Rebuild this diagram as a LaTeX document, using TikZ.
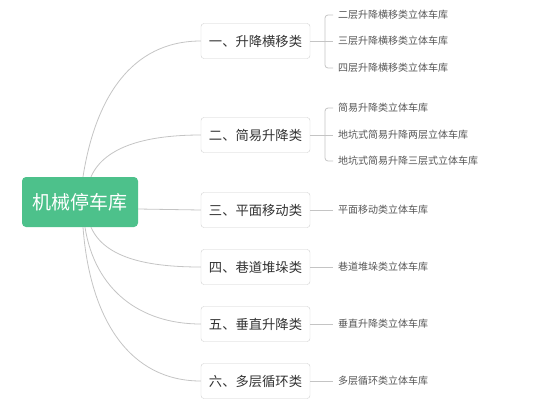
\documentclass[tikz,border=0pt]{standalone}
\usepackage{fontspec}
\setmainfont{Noto Sans CJK SC}
\usepackage{tikz}

\definecolor{rootgreen}{RGB}{77,193,139}
\definecolor{linegray}{RGB}{196,196,196}
\definecolor{boxgray}{RGB}{208,208,208}
\definecolor{catText}{RGB}{51,51,51}
\definecolor{leafText}{RGB}{85,85,85}

\begin{document}
\begin{tikzpicture}[x=1pt, y=-1pt,
    rootbox/.style={fill=rootgreen, rounded corners=4pt, minimum width=116pt, minimum height=50pt,
        text=white, font=\fontsize{19}{21}\selectfont},
    catbox/.style={draw=boxgray, fill=white, rounded corners=3pt, minimum width=109pt, minimum height=35pt,
        text=catText, font=\fontsize{13.3}{15}\selectfont},
    leaf/.style={anchor=west, inner xsep=5pt, text=leafText, font=\fontsize{10}{12}\selectfont},
    link/.style={draw=linegray, line width=0.8pt}]

        \useasboundingbox (0,0) rectangle (554,408);

        %Root
        \node [rootbox] (root) at (80,202) {机械停车库};

        %Categories
        \node [catbox] (c1) at (255.5,41)  {一、升降横移类};
        \node [catbox] (c2) at (255.5,135) {二、简易升降类};
        \node [catbox] (c3) at (255.5,210) {三、平面移动类};
        \node [catbox] (c4) at (255.5,267) {四、巷道堆垛类};
        \node [catbox] (c5) at (255.5,324) {五、垂直升降类};
        \node [catbox] (c6) at (255.5,381) {六、多层循环类};

        %Leaves
        \node [leaf] (l11) at (333,15)  {二层升降横移类立体车库};
        \node [leaf] (l12) at (333,41)  {三层升降横移类立体车库};
        \node [leaf] (l13) at (333,68)  {四层升降横移类立体车库};
        \node [leaf] (l21) at (333,108) {简易升降类立体车库};
        \node [leaf] (l22) at (333,135) {地坑式简易升降两层立体车库};
        \node [leaf] (l23) at (333,161) {地坑式简易升降三层式立体车库};
        \node [leaf] (l3)  at (333,210) {平面移动类立体车库};
        \node [leaf] (l4)  at (333,267) {巷道堆垛类立体车库};
        \node [leaf] (l5)  at (333,324) {垂直升降类立体车库};
        \node [leaf] (l6)  at (333,381) {多层循环类立体车库};

        %Root to categories
        \draw [link] ([xshift=3pt]root.north) .. controls (95,100) and (130,41) .. (c1.west);
        \draw [link] ([xshift=11pt]root.north) .. controls (105,145) and (150,135) .. (c2.west);
        \draw [link] ([yshift=-7pt]root.east) -- (c3.west);
        \draw [link] ([xshift=11pt]root.south) .. controls (105,259) and (150,267) .. (c4.west);
        \draw [link] ([xshift=5pt]root.south) .. controls (95,290) and (140,324) .. (c5.west);
        \draw [link] ([xshift=3pt]root.south) .. controls (90,320) and (130,381) .. (c6.west);

        %Categories to leaves
        \draw [link] (c1.east) -- (l12.west);
        \draw [link, rounded corners=3pt] (l11.west) -- (325,15) -- (325,68) -- (l13.west);
        \draw [link] (c2.east) -- (l22.west);
        \draw [link, rounded corners=3pt] (l21.west) -- (325,108) -- (325,161) -- (l23.west);
        \draw [link] (c3.east) -- (l3.west);
        \draw [link] (c4.east) -- (l4.west);
        \draw [link] (c5.east) -- (l5.west);
        \draw [link] (c6.east) -- (l6.west);

\end{tikzpicture}
\end{document}
